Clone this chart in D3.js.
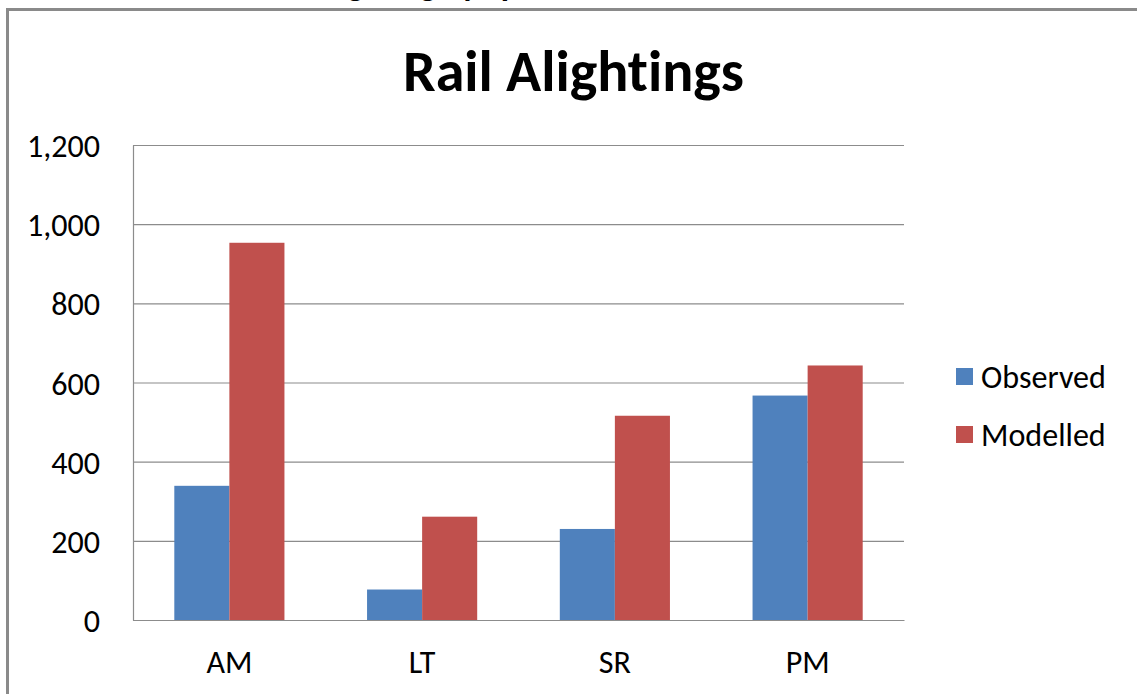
<!DOCTYPE html>
<html>
<head>
<meta charset="utf-8">
<script src="https://cdn.jsdelivr.net/npm/d3@7"></script>
<style>
  html, body { margin: 0; padding: 0; background: #fff; }
  svg { display: block; }
  text { font-family: Carlito, Lato, "Open Sans", sans-serif; fill: #000; font-variant-ligatures: none; font-feature-settings: "liga" 0, "clig" 0; }
</style>
</head>
<body>
<svg id="chart" width="1137" height="694"></svg>
<script>
// Rail alightings by time period
const categories = ["AM", "LT", "SR", "PM"];
const seriesNames = ["Observed", "Modelled"];
const observed = [339, 77, 230, 567];
const modelled = [953, 261, 516, 643];
const yTicks = [0, 200, 400, 600, 800, 1000, 1200];
const colors = ["#4F81BD", "#C0504D"];

const values = [observed, modelled];
const rows = categories.map((c, i) => ({ cat: c, vals: seriesNames.map((s, j) => ({ s, v: values[j][i] })) }));

const svg = d3.select("#chart");
const plot = { left: 133, right: 904, top: 145, bottom: 620 };

// Scale a text's font size so that it spans a given width
function fitWidth(sel, target) {
  sel.each(function () {
    const fs = parseFloat(this.getAttribute("font-size"));
    const w = this.getComputedTextLength();
    if (w > 0) this.setAttribute("font-size", (fs * target / w).toFixed(2));
  });
}

// outer chart frame
svg.append("path")
  .attr("d", "M7.5,694 L7.5,9.5 L1137,9.5")
  .attr("fill", "none")
  .attr("stroke", "#8a8a8a")
  .attr("stroke-width", 3);

// heading of the surrounding page, running off the top edge
svg.append("text")
  .attr("x", 250).attr("y", -4)
  .attr("font-size", 34).attr("font-weight", "bold")
  .text("Rail Alighting by Tp");

const x = d3.scaleBand().domain(categories).range([plot.left, plot.right])
  .paddingInner(1.5 / 3.5).paddingOuter(0.75 / 3.5);
const xs = d3.scaleBand().domain(seriesNames).range([0, x.bandwidth()]).padding(0);
const y = d3.scaleLinear().domain([0, 1200]).range([plot.bottom, plot.top]);

// horizontal gridlines
const grid = svg.append("g").attr("transform", `translate(${plot.left},0)`)
  .call(d3.axisLeft(y).tickValues(yTicks).tickSize(-(plot.right - plot.left)).tickFormat(""));
grid.select(".domain").remove();
grid.selectAll("line").attr("stroke", "#8c8c8c").attr("stroke-width", 1.2);

// bars
svg.append("g").selectAll("g").data(rows).join("g")
  .attr("transform", d => `translate(${x(d.cat)},0)`)
  .selectAll("rect").data(d => d.vals).join("rect")
  .attr("x", d => xs(d.s))
  .attr("width", xs.bandwidth())
  .attr("y", d => y(d.v))
  .attr("height", d => y(0) - y(d.v))
  .attr("fill", (d, i) => colors[i]);

// y axis
const yAxis = svg.append("g").attr("transform", `translate(${plot.left},0)`)
  .call(d3.axisLeft(y).tickValues(yTicks).tickFormat(d3.format(",")).tickSize(0).tickPadding(33));
yAxis.select(".domain").attr("stroke", "#8c8c8c").attr("stroke-width", 1.2);
yAxis.selectAll("text").attr("font-size", 30).attr("font-family", null).attr("fill", "#000").attr("dy", "0.36em");

// x axis
const xAxis = svg.append("g").attr("transform", `translate(0,${plot.bottom})`)
  .call(d3.axisBottom(x).tickSize(0).tickPadding(30));
xAxis.select(".domain").attr("stroke", "#8c8c8c").attr("stroke-width", 1.2);
xAxis.selectAll("text").attr("font-size", 30).attr("font-family", null).attr("fill", "#000").attr("dy", "0.71em");

// title
const title = svg.append("text")
  .attr("x", 573.5).attr("y", 91)
  .attr("text-anchor", "middle")
  .attr("font-size", 56).attr("font-weight", "bold")
  .text("Rail Alightings");
fitWidth(title, 341);

// legend
const legend = svg.append("g").selectAll("g").data(seriesNames).join("g")
  .attr("transform", (d, i) => `translate(956,${368 + i * 58})`);
legend.append("rect").attr("width", 17).attr("height", 17).attr("fill", (d, i) => colors[i]);
const legText = legend.append("text").attr("x", 25).attr("y", 8.5).attr("dy", "0.36em")
  .attr("font-size", 30).text(d => d);
fitWidth(legText.filter(d => d === "Observed"), 125);
const fs = legText.filter(d => d === "Observed").attr("font-size");
legText.attr("font-size", fs);
yAxis.selectAll("text").attr("font-size", fs);
xAxis.selectAll("text").attr("font-size", fs);
</script>
</body>
</html>
